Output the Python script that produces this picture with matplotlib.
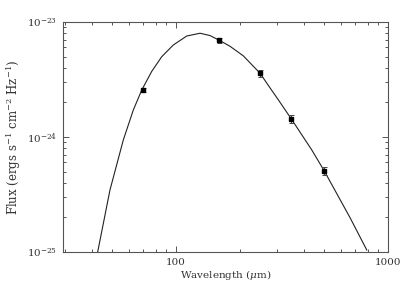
"""SED plot: far-IR photometry with a greybody fit curve, log-log."""
import matplotlib
matplotlib.use("Agg")
import matplotlib.pyplot as plt
from matplotlib.ticker import ScalarFormatter, NullFormatter, LogLocator

# photometry (wavelength in micron, flux in erg s^-1 cm^-2 Hz^-1)
wave = [70, 160, 250, 350, 500]
flux = [2.56e-24, 6.93e-24, 3.58e-24, 1.43e-24, 5.06e-25]
flux_err = [0.08e-24, 0.30e-24, 0.28e-24, 0.11e-24, 0.42e-25]

# fitted curve
fit_wave = [42.7, 48.8, 56.4, 62.9, 68.9, 76.8, 85.6, 97.1, 112.3,
            129.8, 144.5, 160, 179.8, 207.7, 249, 277.5, 303.8, 350,
            436.5, 500, 662, 793]
fit_flux = [1.00e-25, 3.46e-25, 9.42e-25, 1.72e-24, 2.56e-24, 3.72e-24,
            4.99e-24, 6.31e-24, 7.55e-24, 7.98e-24, 7.62e-24, 6.93e-24,
            6.14e-24, 5.07e-24, 3.58e-24, 2.67e-24, 2.10e-24, 1.43e-24,
            7.71e-25, 5.06e-25, 1.98e-25, 1.04e-25]

plt.rcParams["font.family"] = ["DejaVu Serif"]
plt.rcParams["mathtext.fontset"] = "dejavuserif"

fig = plt.figure(figsize=(4.09, 2.93), dpi=100)
ax = fig.add_axes([0.154, 0.140, 0.795, 0.785])

frame = "#555555"
txt = "#333333"

ax.plot(fit_wave, fit_flux, "-", color="#222222", lw=0.8)
ax.errorbar(wave, flux, yerr=flux_err, fmt="s", color="black", ms=3.4,
            ecolor="#444444", elinewidth=0.7, capsize=1.8, capthick=0.7)

ax.set_xscale("log")
ax.set_yscale("log")
ax.set_xlim(29.3, 1000)
ax.set_ylim(1e-25, 1e-23)

ax.set_xticks([100, 1000])
ax.xaxis.set_major_formatter(ScalarFormatter())
ax.xaxis.set_minor_formatter(NullFormatter())
ax.set_yticks([1e-25, 1e-24, 1e-23])
ax.yaxis.set_minor_locator(LogLocator(base=10, subs=range(2, 10)))
ax.yaxis.set_minor_formatter(NullFormatter())

ax.tick_params(which="both", direction="in", top=True, right=True,
               colors=frame, labelcolor=txt, labelsize=7.5, width=0.7)
ax.tick_params(which="major", length=4.3, pad=4)
ax.tick_params(which="minor", length=2.0)
for s in ax.spines.values():
    s.set_color(frame)
    s.set_linewidth(0.8)

ax.set_xlabel(r"Wavelength ($\mu$m)", fontsize=7.5, color=txt, labelpad=1)
ax.set_ylabel(r"Flux (ergs s$^{-1}$ cm$^{-2}$ Hz$^{-1}$)", fontsize=8.5,
              color=txt, labelpad=3)

fig.savefig("out.png", dpi=100)
